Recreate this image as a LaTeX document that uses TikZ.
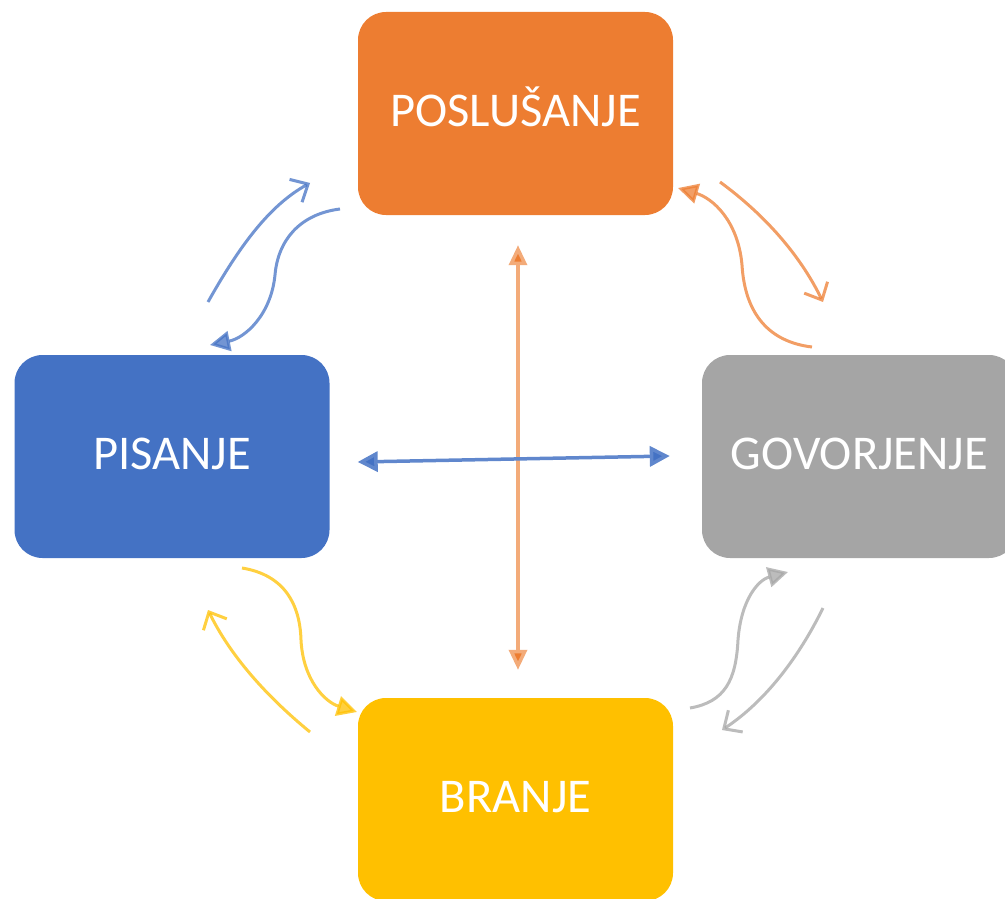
\documentclass[tikz,border=0pt]{standalone}
\usepackage{fontspec}
\setmainfont{Carlito}
\usetikzlibrary{arrows.meta,calc}
\definecolor{cOrange}{HTML}{ED7D31}
\definecolor{cBlue}{HTML}{4472C4}
\definecolor{cGray}{HTML}{A5A5A5}
\definecolor{cYellow}{HTML}{FFC000}
\tikzset{
  skill/.style={rounded corners=28pt, minimum width=315pt, minimum height=203pt,
    inner sep=0pt, text=white, font=\fontsize{48.5}{58}\selectfont,
    text height=31pt, text depth=6pt},
  solidtip/.style={-{Triangle[length=20pt,width=20pt]}},
  barbtip/.style={-{Straight Barb[length=14pt,width=26pt,line width=3pt]}},
  flow/.style={line width=3pt, opacity=0.75},
}
\begin{document}
\begin{tikzpicture}[x=1pt,y=-1pt]
\useasboundingbox (0,0) rectangle (1005,899);
\begin{scope}
\clip (0,0) rectangle (1005,899);
\node[skill, fill=cOrange] (pos) at (515.5,113.5) {POSLUŠANJE};
\node[skill, fill=cBlue]   (pis) at (172,456.5) {PISANJE};
\node[skill, fill=cGray]   (gov) at (859.5,456.5) {GOVORJENJE};
\node[skill, fill=cYellow] (bra) at (515.5,799.5) {BRANJE};
\end{scope}

% central cross
\coordinate (vt) at ($(pos.south)+(2.5,30)$);
\coordinate (vb) at ($(bra.north)+(2.5,-28)$);
\coordinate (hl) at ($(pis.east)+(28,5.5)$);
\coordinate (hr) at ($(gov.west)+(-32,-0.5)$);
\draw[cOrange!65, line width=3.5pt, {Triangle[length=20pt,width=18pt,fill=cOrange]}-{Triangle[length=20pt,width=18pt,fill=cOrange]}]
  (vt) -- (vb);
\draw[cBlue!85, line width=3.5pt, {Triangle[length=20pt,width=20pt,fill=cBlue]}-{Triangle[length=20pt,width=20pt,fill=cBlue]}]
  (hl) -- (hr);

% writing <-> listening
\coordinate (a1s) at (208,302);
\coordinate (a1e) at (310,183);
\draw[flow, cBlue, barbtip] (a1s) .. controls (240,245) and (270,205) .. (a1e);
\coordinate (a2s) at (340,209);
\coordinate (a2e) at (210,345);
\draw[flow, cBlue, solidtip] (a2s) .. controls (300,214) and (278,240) .. (275,275)
  .. controls (271,315) and (245,338) .. (a2e);

% listening <-> speaking
\coordinate (b1s) at (812,347);
\coordinate (b1e) at (678,188);
\draw[flow, cOrange, solidtip] (b1s) .. controls (770,342) and (745,315) .. (742,265)
  .. controls (738,220) and (712,198) .. (b1e);
\coordinate (b2s) at (720,182);
\coordinate (b2e) at (823,302);
\draw[flow, cOrange, barbtip] (b2s) .. controls (765,215) and (800,255) .. (b2e);

% writing <-> reading
\coordinate (c1s) at (242,568);
\coordinate (c1e) at (357,712);
\draw[flow, cYellow, solidtip] (c1s) .. controls (285,575) and (300,605) .. (301,640)
  .. controls (303,680) and (325,702) .. (c1e);
\coordinate (c2s) at (310,732);
\coordinate (c2e) at (208,610);
\draw[flow, cYellow, barbtip] (c2s) .. controls (265,695) and (230,655) .. (c2e);

% speaking <-> reading
\coordinate (d1s) at (690,708);
\coordinate (d1e) at (788,572);
\draw[flow, cGray, solidtip] (d1s) .. controls (725,702) and (736,680) .. (738,640)
  .. controls (741,600) and (758,580) .. (d1e);
\coordinate (d2s) at (823,608);
\coordinate (d2e) at (722,730);
\draw[flow, cGray, barbtip] (d2s) .. controls (795,665) and (760,705) .. (d2e);
\end{tikzpicture}
\end{document}
